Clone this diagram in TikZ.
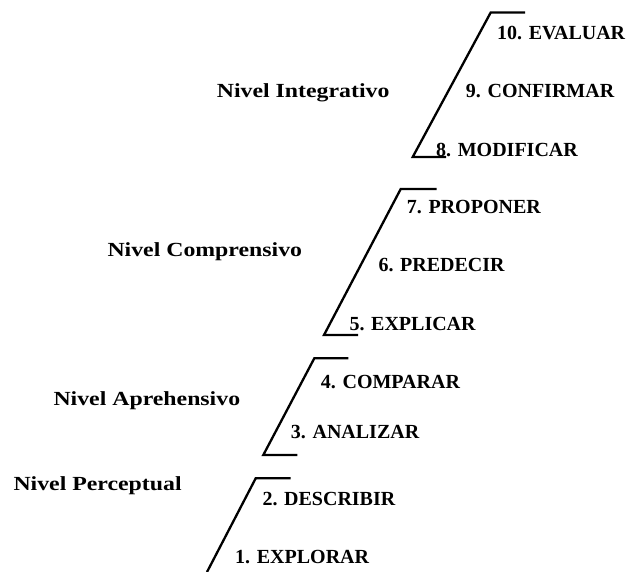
\documentclass[tikz,border=0pt]{standalone}
\usepackage{fontspec}
\usepackage{graphicx}
\setmainfont{Liberation Serif}
\newcommand{\widetext}[1]{\scalebox{1.19}[1]{#1}}
\begin{document}
\begin{tikzpicture}[x=1pt,y=-1pt,
  lbl/.style={anchor=base west,inner sep=0pt,font=\bfseries\fontsize{20}{24}\selectfont},
  lvl/.style={anchor=base west,inner sep=0pt,font=\bfseries\fontsize{20}{24}\selectfont},
  bracket/.style={line width=2.3pt,line join=miter}]
\useasboundingbox (0,0) rectangle (631,571);
% brackets
\draw[bracket] (446,157) -- (412.7,157) -- (490.7,12.5) -- (525,12.5);
\draw[bracket] (358,335) -- (324,335) -- (400.7,189) -- (436.7,189);
\draw[bracket] (297.3,455) -- (263.3,455) -- (314.3,358.3) -- (348.3,358.3);
\draw[bracket] (207,572) -- (255.7,478.3) -- (290.7,478.3);
% step labels
\node[lbl] (s10) at (497,39) {10. EVALUAR};
\node[lbl] (s9) at (465.7,97) {9. CONFIRMAR};
\node[lbl] (s8) at (436,156) {8. MODIFICAR};
\node[lbl] (s7) at (406.7,213.3) {7. PROPONER};
\node[lbl] (s6) at (378.3,271.7) {6. PREDECIR};
\node[lbl] (s5) at (349.3,330) {5. EXPLICAR};
\node[lbl] (s4) at (320.7,388.3) {4. COMPARAR};
\node[lbl] (s3) at (290.7,438.3) {3. ANALIZAR};
\node[lbl] (s2) at (262.3,505) {2. DESCRIBIR};
\node[lbl] (s1) at (235,563.3) {1. EXPLORAR};
% level labels
\node[lvl] (l4) at (216.7,97.7) {\widetext{Nivel Integrativo}};
\node[lvl] (l3) at (107.3,256) {\widetext{Nivel Comprensivo}};
\node[lvl] (l2) at (53.3,405) {\widetext{Nivel Aprehensivo}};
\node[lvl] (l1) at (13.3,490) {\widetext{Nivel Perceptual}};
\end{tikzpicture}
\end{document}
